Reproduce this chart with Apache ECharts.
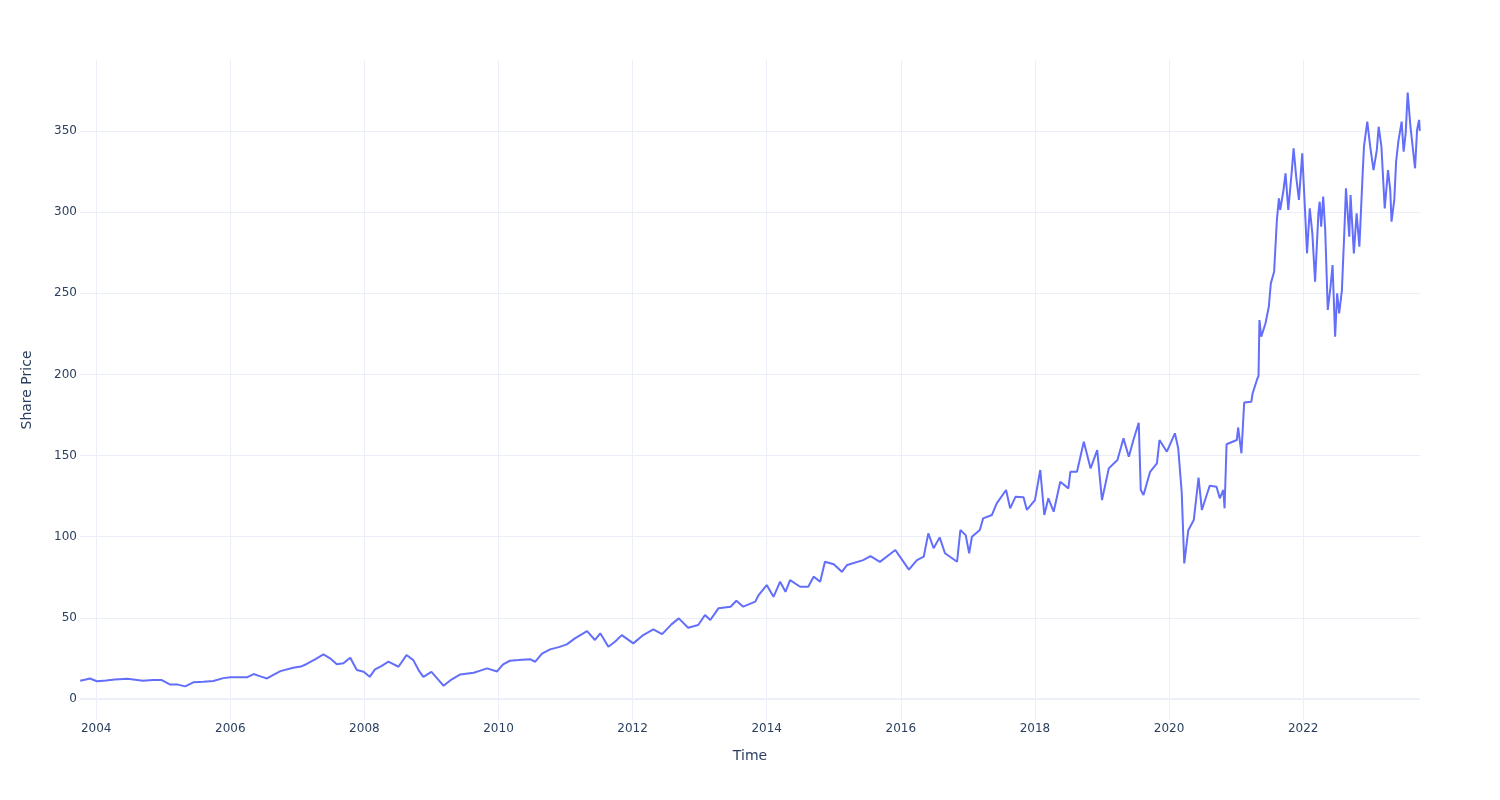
<!DOCTYPE html>
<html>
<head>
<meta charset="utf-8">
<script src="https://cdn.jsdelivr.net/npm/echarts@6/dist/echarts.min.js"></script>
<style>html,body{margin:0;padding:0;background:#fff}#c{width:1500px;height:800px}</style>
</head>
<body>
<div id="c"></div>
<script>
const dates = [
'2003-10-06','2003-11-06','2003-11-28','2004-01-05','2004-02-25','2004-04-12','2004-06-20','2004-09-12','2004-11-06','2004-12-24',
'2005-02-06','2005-03-22','2005-05-01','2005-06-14','2005-08-08','2005-10-01','2005-11-24','2006-01-02','2006-04-02','2006-05-08',
'2006-06-14','2006-07-20','2006-08-26','2006-10-01','2006-12-09','2007-01-20','2007-02-21','2007-04-10','2007-05-23','2007-06-28',
'2007-08-04','2007-09-09','2007-10-16','2007-11-21','2007-12-28','2008-01-30','2008-02-28','2008-04-05','2008-05-11','2008-07-05',
'2008-08-18','2008-09-24','2008-10-27','2008-11-18','2009-01-01','2009-02-07','2009-03-08','2009-04-20','2009-06-07','2009-08-19',
'2009-09-24','2009-10-31','2009-12-24','2010-01-26','2010-03-04','2010-04-20','2010-06-21','2010-07-20','2010-08-26','2010-10-09',
'2010-11-25','2011-01-08','2011-02-21','2011-04-28','2011-06-10','2011-07-09','2011-08-22','2011-09-27','2011-11-03','2012-01-05',
'2012-02-28','2012-04-23','2012-06-10','2012-07-31','2012-09-09','2012-10-30','2012-12-24','2013-01-30','2013-02-28','2013-04-13',
'2013-06-18','2013-07-20','2013-08-26','2013-10-31','2013-11-18','2014-01-01','2014-02-07','2014-03-15','2014-04-13','2014-05-08',
'2014-07-02','2014-08-15','2014-09-13','2014-10-19','2014-11-14','2015-01-01','2015-02-14','2015-03-15','2015-06-10','2015-07-20',
'2015-09-09','2015-10-19','2015-12-02','2016-02-14','2016-03-29','2016-05-05','2016-05-30','2016-06-28','2016-07-31','2016-08-29',
'2016-11-03','2016-11-21','2016-12-20','2017-01-08','2017-01-23','2017-03-07','2017-03-25','2017-05-12','2017-06-07','2017-07-28',
'2017-08-19','2017-09-17','2017-10-31','2017-11-18','2018-01-01','2018-01-30','2018-02-21','2018-03-15','2018-04-13','2018-05-19',
'2018-07-02','2018-07-13','2018-08-18','2018-09-24','2018-10-31','2018-12-06','2019-01-01','2019-02-07','2019-03-26','2019-04-28',
'2019-05-27','2019-06-21','2019-07-20','2019-07-31','2019-08-15','2019-09-20','2019-10-27','2019-11-10','2019-12-20','2020-02-02',
'2020-02-20','2020-03-10','2020-03-24','2020-04-15','2020-05-15','2020-06-10','2020-06-28','2020-08-10','2020-09-16','2020-10-04',
'2020-10-23','2020-10-30','2020-11-10','2021-01-05','2021-01-12','2021-01-30','2021-02-14','2021-03-25','2021-04-01','2021-04-27',
'2021-05-03','2021-05-08','2021-05-18','2021-06-10','2021-06-28','2021-07-09','2021-07-27','2021-08-11','2021-08-22','2021-08-29',
'2021-09-16','2021-09-27','2021-10-12','2021-10-30','2021-11-10','2021-11-24','2021-12-09','2021-12-27','2022-01-11','2022-01-22',
'2022-02-06','2022-02-20','2022-03-07','2022-03-25','2022-04-01','2022-04-09','2022-04-20','2022-05-01','2022-05-15','2022-05-30',
'2022-06-10','2022-06-24','2022-07-05','2022-07-16','2022-07-31','2022-08-15','2022-08-22','2022-09-09','2022-09-16','2022-10-04',
'2022-10-19','2022-11-03','2022-11-21','2022-11-28','2022-12-16','2023-01-01','2023-01-19','2023-02-06','2023-02-16','2023-03-03',
'2023-03-21','2023-04-08','2023-04-20','2023-04-27','2023-05-12','2023-05-22','2023-06-03','2023-06-21','2023-07-02','2023-07-13',
'2023-07-24','2023-08-08','2023-09-02','2023-09-13','2023-09-24','2023-09-28'
];
const prices = [
11.3,12.0,12.7,11.0,11.5,12.1,12.5,11.3,11.8,11.7,
9.0,8.9,7.8,10.3,10.6,11.1,12.9,13.5,13.4,15.4,
14.0,12.7,15.0,17.2,19.3,20.0,21.6,24.6,27.5,25.1,
21.4,22.0,25.5,17.9,16.8,13.7,18.3,20.5,23.0,19.9,
27.1,24.0,17.0,13.7,16.8,12.0,8.2,12.0,15.2,16.2,
17.5,18.9,17.0,21.4,23.6,24.0,24.6,23.0,28.0,30.6,
32.0,33.7,37.4,41.9,36.4,40.5,32.2,35.3,39.4,34.3,
39.4,42.9,40.0,46.0,49.7,43.9,45.6,51.8,48.7,55.9,
56.9,60.6,56.9,60.0,64.1,70.2,63.0,72.3,66.1,73.3,
69.2,69.2,75.4,72.3,84.6,83.0,78.4,82.6,85.6,88.0,
84.5,88.0,91.8,79.7,85.6,87.7,102.1,92.9,99.6,89.8,
84.6,104.1,101.0,89.8,100.0,104.1,111.3,113.4,120.6,128.8,
117.5,124.6,124.3,116.5,122.6,141.1,113.4,123.7,115.4,133.9,
129.8,140.0,140.0,158.5,142.1,153.4,122.6,142.1,147.3,160.6,
149.3,159.6,170.2,128.8,125.7,140.0,145.2,159.6,152.4,163.7,
154.5,127.7,83.6,104.0,110.3,136.5,116.5,131.4,130.8,123.7,
128.8,117.5,157.0,159.6,167.3,151.4,182.7,183.2,188.4,197.5,
199.0,233.5,223.2,231.5,241.7,256.1,263.3,295.1,308.5,301.3,
313.6,323.9,301.3,323.9,339.3,321.8,307.5,336.2,301.3,274.6,
302.3,286.9,257.1,299.3,306.4,291.0,309.5,289.0,239.7,254.0,
267.4,223.2,250.0,237.6,252.0,293.1,314.7,284.9,310.5,274.6,
299.3,278.7,323.9,340.3,355.7,340.3,325.9,338.3,352.6,340.3,
302.3,325.9,313.6,294.1,307.5,331.1,343.4,355.7,337.2,348.5,
373.6,352.6,327.0,350.6,356.8,350.0
];
const xTitle = 'Time';
const yTitle = 'Share Price';
const xStart = '2003-10-05';
const xEnd = '2023-09-29';

const textColor = '#2a3f5f';
const gridColor = '#EBF0F8';
const font = 'DejaVu Sans';

// convert an ISO date string to a fractional year so the axis can tick on whole years
function toYear(s) {
  const p = s.split('-').map(Number);
  const y = p[0];
  const t = Date.UTC(y, p[1] - 1, p[2]);
  const a = Date.UTC(y, 0, 1), b = Date.UTC(y + 1, 0, 1);
  return y + (t - a) / (b - a);
}

const chart = echarts.init(document.getElementById('c'), null, {renderer: 'canvas'});
chart.setOption({
  animation: false,
  backgroundColor: '#ffffff',
  textStyle: {fontFamily: font},
  grid: {left: 80, right: 80, top: 60, bottom: 80, containLabel: false},
  xAxis: {
    type: 'value',
    min: toYear(xStart),
    max: toYear(xEnd),
    splitNumber: 10,
    name: xTitle,
    nameLocation: 'middle',
    nameGap: 29,
    nameTextStyle: {color: textColor, fontSize: 14, fontFamily: font},
    axisLine: {show: false},
    axisTick: {show: false},
    splitLine: {show: true, showMinLine: false, showMaxLine: false, lineStyle: {color: gridColor, width: 1}},
    axisLabel: {
      color: textColor, fontSize: 12, fontFamily: font, margin: 3,
      showMinLabel: false, showMaxLabel: false,
      formatter: function (v) { return String(Math.round(v)); }
    }
  },
  yAxis: {
    type: 'value',
    min: -12.9,
    max: 393.7,
    splitNumber: 8,
    name: yTitle,
    nameLocation: 'middle',
    nameGap: 46,
    nameTextStyle: {color: textColor, fontSize: 14, fontFamily: font},
    axisLine: {show: false},
    axisTick: {show: false},
    splitLine: {show: true, showMinLine: false, showMaxLine: false, lineStyle: {color: gridColor, width: 1}},
    axisLabel: {color: textColor, fontSize: 12, fontFamily: font, margin: 3, showMinLabel: false, showMaxLabel: false}
  },
  series: [{
    type: 'line',
    data: dates.map((d, i) => [toYear(d), prices[i]]),
    showSymbol: false,
    symbol: 'none',
    lineStyle: {color: '#636efa', width: 2},
    itemStyle: {color: '#636efa'},
    markLine: {
      silent: true,
      symbol: ['none', 'none'],
      label: {show: false},
      lineStyle: {color: gridColor, width: 2, type: 'solid'},
      data: [{yAxis: 0}]
    },
    z: 3
  }]
});
</script>
</body>
</html>
